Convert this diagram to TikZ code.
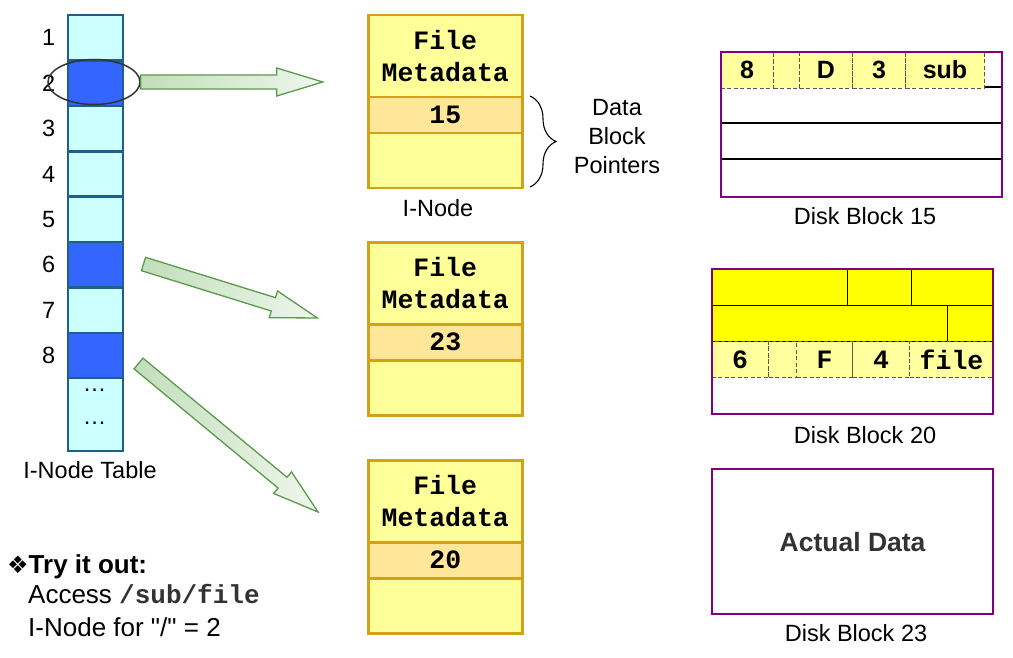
\documentclass[tikz,border=0pt]{standalone}
\usepackage{fontspec}
\setmainfont{Liberation Sans}[Ligatures=TeXOff]
\setmonofont{Liberation Mono}
\newfontfamily\dingfont{DejaVu Sans}
\usetikzlibrary{decorations.pathreplacing,shapes.geometric,calc}

\definecolor{tblborder}{HTML}{1F5F8A}
\definecolor{cellfill}{HTML}{CCFFFF}
\definecolor{celldark}{HTML}{3366FF}
\definecolor{inodeborder}{HTML}{D4A017}
\definecolor{metafill}{HTML}{FFFF99}
\definecolor{ptrfill}{HTML}{FFE699}
\definecolor{diskborder}{HTML}{800080}
\definecolor{dashfill}{HTML}{FFFF9E}
\definecolor{dashborder}{HTML}{5A5A40}
\definecolor{dirfill}{HTML}{FFFF00}
\definecolor{arrowedge}{HTML}{5B9A4B}
\definecolor{arrowdark}{HTML}{C2DEBB}
\definecolor{arrowlight}{HTML}{EEF6EC}
\definecolor{ellgray}{HTML}{333333}
\definecolor{darktext}{HTML}{333333}

% font sizes (1pt = 1px of the drawing)
\newcommand{\labelfont}{\fontsize{23.5}{29}\selectfont}
\newcommand{\monofont}{\fontsize{26.5}{32}\selectfont\ttfamily\bfseries}
\newcommand{\cellsans}{\fontsize{25}{30}\selectfont\bfseries}
\newcommand{\notefont}{\fontsize{26}{31.5}\selectfont}

% wide shaded pointer arrow: #1 tail point, #2 angle, #3 length
\newcommand{\pointerarrow}[3]{%
  \begin{scope}[shift={#1}, rotate=#2]
    \draw[fatarrow] (0,-7) -- ({#3-46},-7) -- ({#3-46},-14) -- (#3,0)
      -- ({#3-46},14) -- ({#3-46},7) -- (0,7) -- cycle;
  \end{scope}}

\begin{document}
\begin{tikzpicture}[x=1pt,y=1pt,
  tcell/.style={draw=tblborder, line width=2.4pt, fill=cellfill,
    minimum width=55pt, minimum height=45.4pt, inner sep=0pt, anchor=north west},
  num/.style={font=\labelfont, inner sep=0pt},
  fatarrow/.style={draw=arrowedge, line width=1.3pt, left color=arrowdark, right color=arrowlight},
  meta/.style={draw=inodeborder, line width=2.5pt, fill=metafill, minimum width=154pt,
    minimum height=82pt, anchor=north west, inner sep=0pt, align=center, font=\monofont},
  ptr/.style={draw=inodeborder, line width=2.5pt, fill=ptrfill, minimum width=154pt,
    minimum height=36pt, anchor=north west, inner sep=0pt, font=\monofont},
  empt/.style={draw=inodeborder, line width=2.5pt, fill=metafill, minimum width=154pt,
    minimum height=55pt, anchor=north west, inner sep=0pt},
  disk/.style={draw=diskborder, line width=2.2pt, anchor=north west, inner sep=0pt,
    minimum width=281pt, minimum height=145pt},
  rowline/.style={draw=black, line width=1.2pt},
  dcell/.style={draw=dashborder, dashed, dash pattern=on 4pt off 2.5pt, line width=1pt,
    fill=dashfill, anchor=north west, inner sep=0pt, minimum height=37pt},
  ycell/.style={draw=black, line width=1.2pt, fill=dirfill, anchor=north west,
    inner sep=0pt},
  caption/.style={font=\labelfont, inner sep=0pt}
]
\useasboundingbox (0,0) rectangle (1013,-658);

% ---------------- I-node table ----------------
\foreach \i/\col in {1/cellfill,2/celldark,3/cellfill,4/cellfill,5/cellfill,6/celldark,7/cellfill,8/celldark}{
  \node[tcell, fill=\col] (c\i) at (67,{-14-45.375*(\i-1)}) {};
  \node[num] (n\i) at ($(c\i.center)+(-47,0)$) {\i};
}
\node[tcell, minimum height=73pt] (cdots) at (67,-377) {};
\node[anchor=base, font=\labelfont, inner sep=0pt] (d1) at (94.5,-391) {…};
\node[anchor=base, font=\labelfont, inner sep=0pt] (d2) at (94.5,-424) {…};
\node[caption] (tbl) at (90,-470) {I-Node Table};

% selected entry
\node[draw=ellgray, line width=1.5pt, ellipse, minimum width=92pt, minimum height=45pt,
  inner sep=0pt] (sel) at (94,-82) {};

% ---------------- pointer arrows ----------------
\coordinate (t1) at (sel.east);
\coordinate (t2) at (143.5,-264);
\coordinate (t3) at (138.5,-363.5);
\pointerarrow{(t1)}{0}{182}
\pointerarrow{(t2)}{-17.25}{182}
\pointerarrow{(t3)}{-39.6}{233}

% ---------------- I-nodes ----------------
\node[meta] (m1) at (367,-14) {File\\Metadata};
\node[ptr]  (p1) at (367,-96) {15};
\node[empt] (e1) at (367,-132) {};
\node[caption] (inl) at (438,-208) {I-Node};

\node[meta] (m2) at (367,-241) {File\\Metadata};
\node[ptr]  (p2) at (367,-323) {23};
\node[empt] (e2) at (367,-359) {};

\node[meta] (m3) at (367,-459) {File\\Metadata};
\node[ptr]  (p3) at (367,-541) {20};
\node[empt] (e3) at (367,-577) {};

% data block pointers brace
\coordinate (bt) at (530,-96);
\coordinate (bb) at (530,-187);
\draw[line width=1.1pt, decorate, decoration={brace, amplitude=26pt}] (bt) -- (bb);
\node[font=\labelfont, align=center, inner sep=0pt] (dbp) at (617,-137) {Data\\Block\\Pointers};

% ---------------- Disk block 15 ----------------
\node[disk, fill=white] (b15) at (720,-51) {};
\draw[rowline] (720,-87) -- (1001,-87);
\draw[rowline] (720,-123) -- (1001,-123);
\draw[rowline] (720,-159) -- (1001,-159);
\node[dcell, minimum width=53pt, font=\cellsans] (q1) at (720,-51) {8};
\node[dcell, minimum width=26pt] (q2) at (773,-51) {};
\node[dcell, minimum width=53pt, font=\cellsans] (q3) at (799,-51) {D};
\node[dcell, minimum width=53pt, font=\cellsans] (q4) at (852,-51) {3};
\node[dcell, minimum width=79pt, font=\cellsans] (q5) at (905,-51) {sub};
\node[disk] at (720,-51) {};
\node[caption] (l15) at (865,-216) {Disk Block 15};

% ---------------- Disk block 20 ----------------
\node[disk, fill=white] (b20) at (711,-268) {};
\node[ycell, minimum width=136pt, minimum height=36.5pt] (y1) at (711,-268) {};
\node[ycell, minimum width=64pt, minimum height=36.5pt] (y2) at (847,-268) {};
\node[ycell, minimum width=82pt, minimum height=36.5pt] (y3) at (911,-268) {};
\node[ycell, minimum width=236pt, minimum height=36.5pt] (y4) at (711,-304.5) {};
\node[ycell, minimum width=46pt, minimum height=36.5pt] (y5) at (947,-304.5) {};
\node[dcell, minimum width=57pt, minimum height=36pt, font=\monofont] (r1) at (711,-341) {6};
\node[dcell, minimum width=28pt, minimum height=36pt] (r2) at (768,-341) {};
\node[dcell, minimum width=56pt, minimum height=36pt, font=\monofont] (r3) at (796,-341) {F};
\node[dcell, minimum width=57pt, minimum height=36pt, font=\monofont] (r4) at (852,-341) {4};
\node[dcell, minimum width=84pt, minimum height=36pt, font=\monofont] (r5) at (909,-341) {file};
\node[disk] at (711,-268) {};
\node[caption] (l20) at (865,-435) {Disk Block 20};

% ---------------- Disk block 23 ----------------
\node[disk, fill=white, font=\fontsize{26.5}{32}\selectfont\bfseries, text=darktext] (b23) at (711,-468) {Actual Data};
\node[caption] (l23) at (856,-633) {Disk Block 23};

% ---------------- note ----------------
\node[anchor=base west, font=\notefont, inner sep=0pt] (try) at (7,-573)
  {{\dingfont\fontsize{24}{28}\selectfont ❖}\textbf{Try it out:}};
\node[anchor=base west, font=\notefont, inner sep=0pt] (acc) at (28,-603)
  {Access {\ttfamily\bfseries\color{darktext}/sub/file}};
\node[anchor=base west, font=\notefont, inner sep=0pt] (root) at (28,-636)
  {I-Node for "/" = 2};
\end{tikzpicture}
\end{document}
